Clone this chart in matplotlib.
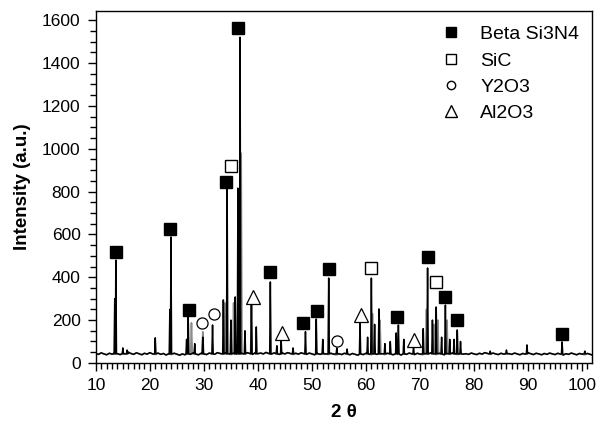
import numpy as np
import matplotlib
matplotlib.use("Agg")
import matplotlib.pyplot as plt
from matplotlib.lines import Line2D
from matplotlib.ticker import MultipleLocator

plt.rcParams["font.family"] = ["Liberation Sans", "DejaVu Sans"]

# Baseline (background) read every 0.5 deg, 10 .. 102
base_start = 10.0
base_step = 0.5
base_counts = [
    44, 40, 47, 42, 38, 45, 41, 49, 43, 39, 46, 42, 50, 44, 40, 47, 43, 38, 45, 41,
    48, 42, 39, 46, 40, 44, 37, 43, 39, 45, 41, 36, 42, 38, 44, 40, 47, 41, 38, 45,
    42, 39, 46, 43, 40, 48, 44, 41, 47, 43, 39, 46, 42, 49, 45, 41, 48, 44, 40, 47,
    43, 46, 42, 49, 44, 41, 47, 43, 40, 46, 42, 48, 44, 39, 45, 41, 47, 43, 40, 46,
    42, 38, 44, 40, 46, 42, 39, 45, 41, 37, 43, 39, 45, 41, 38, 44, 40, 36, 42, 39,
    45, 41, 38, 44, 40, 37, 43, 39, 45, 42, 38, 44, 41, 37, 43, 40, 46, 42, 39, 45,
    41, 38, 44, 40, 47, 43, 39, 45, 41, 38, 44, 40, 46, 42, 39, 45, 41, 43, 40, 46,
    42, 39, 45, 41, 48, 44, 40, 46, 42, 39, 45, 41, 47, 43, 40, 46, 42, 38, 44, 41,
    47, 43, 39, 45, 42, 38, 44, 40, 46, 42, 39, 45, 41, 37, 43, 40, 46, 42, 38, 44,
    41, 38, 44, 40, 36,
]

# Diffraction peaks (black trace)
peak_2theta = [13.5, 13.7, 15.0, 15.8, 21.0, 23.7, 23.9, 26.8, 27.1, 28.3,
               29.8, 31.6, 33.6, 34.3, 35.0, 35.8, 36.3, 36.7, 37.6, 38.8,
               39.7, 42.3, 43.5, 44.3, 46.5, 48.8, 50.8, 52.0, 53.1, 54.6,
               56.5, 58.9, 60.3, 61.0, 61.6, 62.4, 63.5, 64.5, 65.6, 66.0,
               67.0, 68.8, 70.6, 71.4, 72.3, 73.0, 74.0, 74.7, 75.5, 76.3,
               76.9, 77.5, 83.0, 86.0, 89.8, 96.3, 100.5]
peak_counts = [300, 480, 70, 60, 117, 250, 588, 110, 215, 90,
               120, 177, 294, 816, 200, 308, 816, 1520, 150, 270,
               168, 378, 80, 103, 70, 146, 205, 110, 396, 70,
               65, 191, 120, 396, 180, 252, 90, 100, 140, 177,
               110, 75, 160, 443, 200, 261, 120, 270, 110, 110,
               154, 100, 55, 60, 84, 98, 55]

# Second (gray) trace peaks
gray_2theta = [27.7, 29.8, 33.9, 35.5, 36.9, 38.8, 61.2, 62.6, 71.2, 72.6, 73.3, 75.0]
gray_counts = [187, 145, 280, 280, 979, 270, 230, 200, 250, 180, 200, 200]

# Phase markers (2theta, intensity)
si3n4_2theta = [13.7, 23.7, 27.2, 34.0, 36.4, 42.2, 48.4, 50.9, 53.1, 65.8, 71.4, 74.7, 76.9, 96.3]
si3n4_counts = [518, 625, 247, 844, 1562, 424, 187, 243, 438, 215, 494, 308, 200, 135]
sic_2theta = [35.1, 61.0, 73.0]
sic_counts = [919, 443, 378]
y2o3_2theta = [29.6, 31.8, 54.7]
y2o3_counts = [187, 229, 103]
al2o3_2theta = [39.0, 44.4, 59.0, 68.8]
al2o3_counts = [308, 140, 224, 107]


def build_trace(px, py, half_width=0.12, foot=42):
    bx = base_start + base_step * np.arange(len(base_counts))
    by = np.array(base_counts, dtype=float)
    keep = np.ones(len(bx), dtype=bool)
    for p in px:
        keep &= np.abs(bx - p) > half_width
    xs = list(bx[keep])
    ys = list(by[keep])
    for p, h in zip(px, py):
        xs += [p - half_width, p, p + half_width]
        ys += [foot, h, foot]
    order = np.argsort(xs)
    return np.array(xs)[order], np.array(ys)[order]


fig = plt.figure(figsize=(5.99, 4.30), dpi=100)
ax = fig.add_axes([0.160, 0.156, 0.828, 0.818])

gx, gy = build_trace(gray_2theta, gray_counts, half_width=0.15)
ax.plot(gx, gy, color="#8a8a8a", linewidth=1.2, zorder=1)
tx, ty = build_trace(peak_2theta, peak_counts)
ax.plot(tx, ty, color="black", linewidth=1.1, zorder=2)

ax.plot(si3n4_2theta, si3n4_counts, "s", ms=8.5, mfc="black", mec="black", ls="none", zorder=3)
ax.plot(sic_2theta, sic_counts, "s", ms=9, mfc="white", mec="black", mew=1.0, ls="none", zorder=3)
ax.plot(y2o3_2theta, y2o3_counts, "o", ms=8, mfc="white", mec="black", mew=0.9, ls="none", zorder=3)
ax.plot(al2o3_2theta, al2o3_counts, "^", ms=10, mfc="white", mec="black", mew=0.9, ls="none", zorder=3)

handles = [
    Line2D([], [], marker="s", ms=7, mfc="black", mec="black", ls="none"),
    Line2D([], [], marker="s", ms=7, mfc="white", mec="black", ls="none"),
    Line2D([], [], marker="o", ms=6, mfc="white", mec="black", ls="none"),
    Line2D([], [], marker="^", ms=8, mfc="white", mec="black", ls="none"),
]
ax.legend(handles, ["Beta Si3N4", "SiC", "Y2O3", "Al2O3"], loc="upper right",
          bbox_to_anchor=(1.0, 0.995), frameon=False, fontsize=14,
          handletextpad=0.5, labelspacing=0.45, borderaxespad=0.25)

ax.set_xlim(10, 101.8)
ax.set_ylim(0, 1642)
ax.xaxis.set_major_locator(MultipleLocator(10))
ax.xaxis.set_minor_locator(MultipleLocator(1))
ax.yaxis.set_major_locator(MultipleLocator(200))
ax.yaxis.set_minor_locator(MultipleLocator(50))
ax.tick_params(which="major", direction="out", length=6, width=1, labelsize=12.5, pad=5)
ax.tick_params(which="minor", direction="out", length=4, width=1)
for s in ax.spines.values():
    s.set_linewidth(1.0)

ax.set_xlabel("2 \u03b8", fontsize=13.5, fontweight="bold", labelpad=8)
ax.set_ylabel("Intensity (a.u.)", fontsize=13.5, fontweight="bold", labelpad=8)

fig.savefig("out.png", dpi=100)
